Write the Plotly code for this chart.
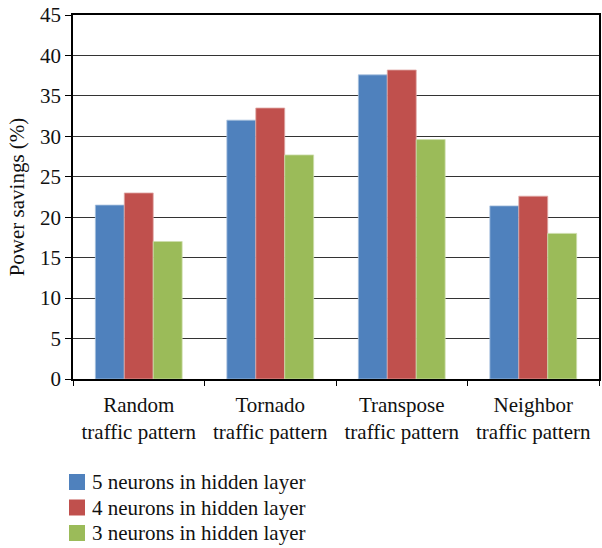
import plotly.graph_objects as go

# Traffic patterns and power savings (%) for each hidden-layer size
categories = ["Random<br>traffic pattern", "Tornado<br>traffic pattern",
              "Transpose<br>traffic pattern", "Neighbor<br>traffic pattern"]
series_names = ["5 neurons in hidden layer", "4 neurons in hidden layer",
                "3 neurons in hidden layer"]
savings_5 = [21.5, 32.0, 37.6, 21.4]
savings_4 = [23.0, 33.5, 38.2, 22.6]
savings_3 = [17.0, 27.7, 29.6, 18.0]
y_ticks = [0, 5, 10, 15, 20, 25, 30, 35, 40, 45]

colors = ["#4F81BD", "#C0504D", "#9BBB59"]
edges = ["#A7C0DE", "#DFA8A6", "#CDDDAC"]

W, H = 602, 548
ML, MR, MT, MB = 73, 3, 15, 169
plot_w = W - ML - MR
plot_h = H - MT - MB


def px_to_paper_x(px):
    return (px - ML) / plot_w


def px_to_paper_y(py):
    return (H - MB - py) / plot_h


fig = go.Figure()
for name, vals, c, e in zip(series_names, [savings_5, savings_4, savings_3], colors, edges):
    fig.add_trace(go.Bar(
        x=categories, y=vals, name=name, showlegend=False,
        marker=dict(color=c, line=dict(color=e, width=0.8)),
    ))

font_family = "Liberation Serif, DejaVu Serif, serif"

# Legend: colour swatch plus label for each series, stacked below the axis
legend_rows = [482, 507.5, 533]
for name, c, row in zip(series_names, colors, legend_rows):
    fig.add_shape(
        type="rect", xref="paper", yref="paper",
        x0=px_to_paper_x(69), x1=px_to_paper_x(85),
        y0=px_to_paper_y(row + 8), y1=px_to_paper_y(row - 8),
        fillcolor=c, line=dict(width=0),
    )
    fig.add_annotation(
        text=name, xref="paper", yref="paper",
        x=px_to_paper_x(90), y=px_to_paper_y(row),
        xanchor="left", yanchor="middle", showarrow=False,
        font=dict(size=21, family=font_family, color="#111111"),
    )

fig.update_layout(
    width=W, height=H,
    margin=dict(l=ML, r=MR, t=MT, b=MB, autoexpand=False),
    paper_bgcolor="white", plot_bgcolor="white",
    barmode="group", bargap=0.34, bargroupgap=0,
    font=dict(family=font_family, size=21, color="#111111"),
    xaxis=dict(
        showline=True, linecolor="black", linewidth=1.5, mirror=True,
        ticks="outside", tickson="boundaries", ticklen=5, tickcolor="black",
        tickfont=dict(size=21, family=font_family), ticklabelstandoff=6,
        showgrid=False,
    ),
    yaxis=dict(
        range=[0, 45], tickvals=y_ticks,
        showline=True, linecolor="black", linewidth=1.5, mirror=True,
        ticks="outside", ticklen=6, tickcolor="black",
        tickfont=dict(size=21, family=font_family),
        showgrid=True, gridcolor="#333333", gridwidth=1.3,
        zeroline=False,
        title=dict(text="Power savings (%)", font=dict(size=21, family=font_family), standoff=10),
    ),
)

fig.write_html("out.html")
